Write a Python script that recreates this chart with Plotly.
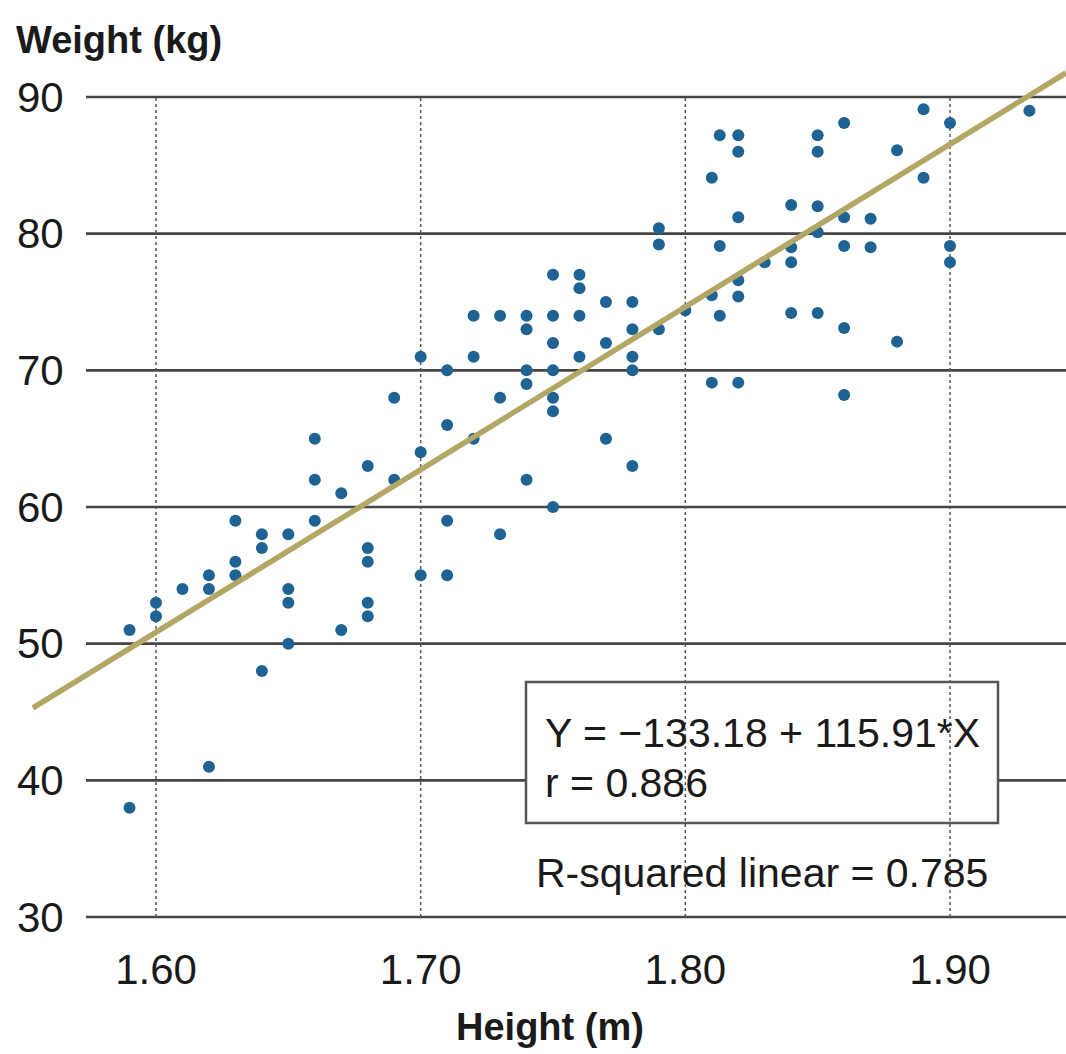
import plotly.graph_objects as go

# ---- data ----
height = [1.59, 1.59,
          1.60, 1.60, 1.61, 1.62, 1.62, 1.62,
          1.63, 1.63, 1.63, 1.64, 1.64, 1.64,
          1.65, 1.65, 1.65, 1.65, 1.66, 1.66, 1.66,
          1.67, 1.67, 1.68, 1.68, 1.68, 1.68, 1.68,
          1.69, 1.69, 1.70, 1.70, 1.70,
          1.71, 1.71, 1.71, 1.71, 1.72, 1.72, 1.72,
          1.73, 1.73, 1.73, 1.74, 1.74, 1.74, 1.74, 1.74,
          1.75, 1.75, 1.75, 1.75, 1.75, 1.75, 1.75,
          1.76, 1.76, 1.76, 1.76, 1.77, 1.77, 1.77,
          1.78, 1.78, 1.78, 1.78, 1.78, 1.79, 1.79, 1.79,
          1.80, 1.81, 1.81, 1.81, 1.813, 1.813, 1.813,
          1.82, 1.82, 1.82, 1.82, 1.82, 1.82, 1.83,
          1.84, 1.84, 1.84, 1.84, 1.85, 1.85, 1.85, 1.85, 1.85,
          1.86, 1.86, 1.86, 1.86, 1.86, 1.87, 1.87, 1.88, 1.88,
          1.89, 1.89, 1.90, 1.90, 1.90, 1.93]
weight = [51, 38,
          53, 52, 54, 55, 54, 41,
          59, 56, 55, 58, 57, 48,
          58, 54, 53, 50, 65, 62, 59,
          61, 51, 63, 57, 56, 53, 52,
          62, 68, 71, 64, 55,
          70, 66, 59, 55, 74, 71, 65,
          74, 68, 58, 74, 73, 70, 69, 62,
          77, 74, 72, 70, 68, 67, 60,
          77, 76, 74, 71, 75, 72, 65,
          75, 73, 71, 70, 63, 80.4, 79.2, 73,
          74.4, 84.1, 75.5, 69.1, 87.2, 79.1, 74.0,
          87.2, 86.0, 81.2, 76.6, 75.4, 69.1, 77.9,
          82.1, 79.0, 77.9, 74.2, 87.2, 86.0, 82.0, 80.1, 74.2,
          88.1, 81.2, 79.1, 73.1, 68.2, 81.1, 79.0, 86.1, 72.1,
          89.1, 84.1, 88.1, 79.1, 77.9, 89.0]

fit_x = [1.5535, 1.9438]
fit_y = [45.3, 91.76]

x_ticks = [1.60, 1.70, 1.80, 1.90]
x_ticktext = ["1.60", "1.70", "1.80", "1.90"]
y_ticks = [30, 40, 50, 60, 70, 80, 90]
y_ticktext = ["30", "40", "50", "60", "70", "80", "90"]

equation = "Y = \u2212133.18 + 115.91*X"
r_text = "r = 0.886"
r2_text = "R-squared linear = 0.785"
x_title = "Height (m)"
y_title = "Weight (kg)"

# ---- figure ----
W, H = 1066, 1054
PX_PER_Y = 13.665
T = 70                 # plot top in px
BOT = 945              # plot bottom in px (a little below the 30 line)
B = H - BOT
PH = BOT - T
Y30_PX = 917


def py(p):
    return (BOT - p) / PH


def px(p):
    return p / W


FONT = "Liberation Sans, Arial, Helvetica, sans-serif"
GRID = "#454545"

fig = go.Figure()

fig.add_trace(go.Scatter(
    x=height, y=weight, mode="markers",
    marker=dict(color="#1f6394", size=12, line=dict(width=0)),
    showlegend=False, hoverinfo="skip"))

fig.add_trace(go.Scatter(
    x=fit_x, y=fit_y, mode="lines",
    line=dict(color="#b3a765", width=5.5),
    showlegend=False, hoverinfo="skip"))

shapes = []
for v in y_ticks:
    shapes.append(dict(type="line", xref="paper", yref="y",
                       x0=px(86), x1=1, y0=v, y1=v,
                       line=dict(color=GRID, width=2.6), layer="below"))
for v in x_ticks:
    shapes.append(dict(type="line", xref="x", yref="y",
                       x0=v, x1=v, y0=y_ticks[0], y1=y_ticks[-1],
                       line=dict(color="#555555", width=1.5, dash="dot"),
                       layer="below"))
shapes.append(dict(type="rect", xref="paper", yref="paper",
                   x0=px(526), x1=px(998), y0=py(823), y1=py(682),
                   fillcolor="white", line=dict(color="#555555", width=2.5),
                   layer="below"))

annotations = [
    dict(text=y_title, xref="paper", yref="paper", x=px(14), y=py(40),
         xanchor="left", yanchor="middle", showarrow=False,
         font=dict(family=FONT, size=38, color="#1a1a1a", weight="bold")),
    dict(text=x_title, xref="paper", yref="paper", x=px(550), y=py(1027),
         xanchor="center", yanchor="middle", showarrow=False,
         font=dict(family=FONT, size=38, color="#1a1a1a", weight="bold")),
    dict(text=equation, xref="paper", yref="paper", x=px(543), y=py(733),
         xanchor="left", yanchor="middle", showarrow=False,
         font=dict(family=FONT, size=41, color="#1a1a1a")),
    dict(text=r_text, xref="paper", yref="paper", x=px(543), y=py(783),
         xanchor="left", yanchor="middle", showarrow=False,
         font=dict(family=FONT, size=41, color="#1a1a1a")),
    dict(text=r2_text, xref="paper", yref="paper", x=px(762), y=py(873),
         xanchor="center", yanchor="middle", showarrow=False,
         font=dict(family=FONT, size=41, color="#1a1a1a")),
]

x0 = 1.60 - 156 / 2646.7
x1 = 1.90 + 116 / 2646.7
y_top = 90 + (97 - T) / PX_PER_Y
y_bot = 30 - (BOT - Y30_PX) / PX_PER_Y

fig.update_layout(
    width=W, height=H,
    margin=dict(l=0, r=0, t=T, b=B, pad=0),
    paper_bgcolor="white", plot_bgcolor="white",
    shapes=shapes, annotations=annotations,
    font=dict(family=FONT, color="#1a1a1a"),
    xaxis=dict(range=[x0, x1], tickvals=x_ticks, ticktext=x_ticktext,
               showgrid=False, zeroline=False, showline=False, ticks="",
               tickfont=dict(size=42, family=FONT, color="#1a1a1a"),
               ticklabelstandoff=-4),
    yaxis=dict(range=[y_bot, y_top], tickvals=y_ticks, ticktext=y_ticktext,
               showgrid=False, zeroline=False, showline=False, ticks="",
               ticklabelposition="inside",
               tickfont=dict(size=42, family=FONT, color="#1a1a1a"),
               ticklabelstandoff=14),
)

fig.write_html("out.html",
               config={"displayModeBar": False},
               post_script="document.body.style.margin='0';"
                           "document.body.style.padding='0';")
